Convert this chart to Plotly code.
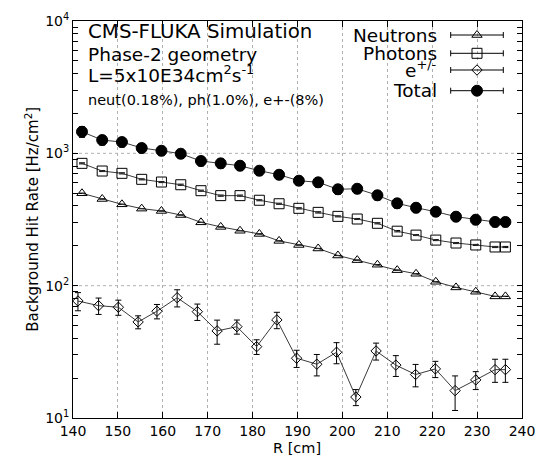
import plotly.graph_objects as go

# Radial positions [cm]
r_main = [142.0, 146.5, 150.9, 155.3, 159.7, 164.0, 168.5, 172.9, 177.2, 181.5, 185.9, 190.3,
          194.6, 199.0, 203.3, 207.8, 212.2, 216.4, 220.8, 225.3, 229.7, 234.0, 236.3]
r_elec = [141.1, 145.7, 150.1, 154.5, 158.7, 163.2, 167.7, 172.1, 176.5, 180.9, 185.4, 189.8,
          194.3, 198.7, 203.0, 207.5, 211.9, 216.3, 220.7, 225.1, 229.7, 234.0, 236.3]

# Background hit rates [Hz/cm^2]
neutrons = [499, 452, 412, 382, 367, 342, 301, 278, 260, 246, 218, 203,
            191, 169, 156, 144, 131, 123, 107, 97, 90, 83, 83]
neutrons_err = [0.9, 0.8, 0.7, 0.7, 0.7, 0.6, 0.5, 0.5, 0.5, 0.4, 0.4, 0.4,
                0.3, 0.3, 0.3, 0.3, 0.2, 0.2, 0.2, 0.2, 0.2, 0.1, 0.1]
photons = [840, 735, 706, 636, 607, 579, 522, 479, 479, 442, 416, 384,
           358, 334, 319, 296, 258, 241, 221, 210, 203, 196, 196]
photons_err = [8, 7, 7, 6, 6, 6, 5, 5, 5, 4, 4, 4, 4, 3, 3, 3, 3, 2, 2, 2, 2, 2, 2]
electrons = [76.6, 70.6, 68.7, 53.2, 64.1, 81.1, 63.6, 45.5, 49.0, 34.6, 55.1, 28.3,
             25.5, 31.4, 14.4, 32.1, 25.1, 21.3, 23.5, 16.1, 19.4, 23.2, 23.2]
electrons_err = [12, 10, 9, 6, 8, 12, 9, 9.4, 6, 4.4, 7.8, 4.2,
                 4.7, 5.7, 2.0, 4.7, 4.5, 4.1, 3.3, 4.7, 3.0, 4.6, 4.6]
total = [1456, 1260, 1217, 1097, 1046, 993, 875, 840, 806, 739, 689, 621,
         604, 535, 540, 482, 419, 388, 362, 332, 315, 303, 303]
total_err = [135, 105, 100, 90, 85, 80, 72, 68, 66, 60, 56, 50,
             49, 44, 44, 39, 34, 32, 29, 27, 26, 25, 25]

series_names = ["Neutrons", "Photons", "e<sup>+/-</sup>", "Total"]

# Axis ticks: labelled decades plus unlabelled 2..9 subdivisions
x_ticks = [140, 150, 160, 170, 180, 190, 200, 210, 220, 230, 240]
y_major = [10, 100, 1000, 10000]
y_major_text = ["10<sup>1</sup>", "10<sup>2</sup>", "10<sup>3</sup>", "10<sup>4</sup>"]
y_minor = [m * d for d in (10, 100, 1000) for m in range(2, 10)]
y_tickvals = y_major + y_minor
y_ticktext = y_major_text + [""] * len(y_minor)
# decade gridlines as fractions of the plot height (log range 1..4)
grid_fracs = [1 / 3, 2 / 3]

FONT = "DejaVu Sans"
LINE_COL = "#3a3a3a"
GRID_COL = "#b0b0b0"

styles = [
    dict(symbol="triangle-up-open", size=9, fill=None),
    dict(symbol="square-open", size=10, fill=None),
    dict(symbol="diamond-open", size=8, fill=None),
    dict(symbol="circle", size=11, fill="black"),
]

fig = go.Figure()

datasets = [
    (r_main, neutrons, neutrons_err),
    (r_main, photons, photons_err),
    (r_elec, electrons, electrons_err),
    (r_main, total, total_err),
]

for (xs, ys, es), st in zip(datasets, styles):
    fig.add_trace(go.Scatter(
        x=xs, y=ys, mode="lines+markers",
        line=dict(color=LINE_COL, width=1),
        marker=dict(symbol=st["symbol"], size=st["size"],
                    color=st["fill"] or "black",
                    line=dict(color="black", width=1)),
        error_y=dict(type="data", array=es, visible=True,
                     color="black", thickness=1, width=3),
        showlegend=False,
    ))

for gf in grid_fracs:
    fig.add_shape(type="line", xref="x domain", yref="y domain",
                  x0=0, x1=1, y0=gf, y1=gf, layer="below",
                  line=dict(color=GRID_COL, width=1, dash="dot"))

# Legend key drawn on a pixel-scaled overlay: horizontal bar with caps and the symbol
key_y = [35, 53.3, 70, 90.7]
key_text_y = [35, 53.3, 68.7, 90.7]
key_x = 477
key_half = 26.3
for name, st, ky, ty in zip(series_names, styles, key_y, key_text_y):
    fig.add_trace(go.Scatter(
        x=[key_x], y=[ky], xaxis="x2", yaxis="y2", mode="markers",
        marker=dict(symbol=st["symbol"], size=st["size"],
                    color=st["fill"] or "black",
                    line=dict(color="black", width=1)),
        error_x=dict(type="constant", value=key_half, visible=True,
                     color="black", thickness=1, width=3),
        showlegend=False, hoverinfo="skip",
    ))
    fig.add_annotation(x=439, y=ty, xref="x2", yref="y2", text=name,
                       showarrow=False, xanchor="right", yanchor="middle",
                       font=dict(family=FONT, size=18.5, color="black"))

info_lines = [
    ("CMS-FLUKA Simulation", 31.7, 19.8),
    ("Phase-2 geometry", 54.5, 18.5),
    ("L=5x10E34cm<sup>2</sup>s<sup>-1</sup>", 73.7, 18.5),
    ("neut(0.18%), ph(1.0%), e+-(8%)", 100, 14.5),
]
for txt, ty, fs in info_lines:
    fig.add_annotation(x=86, y=ty, xref="x2", yref="y2", text=txt,
                       showarrow=False, xanchor="left", yanchor="middle",
                       font=dict(family=FONT, size=fs, color="black"))

# Axis titles, placed in paper coordinates relative to the plot area
fig.add_annotation(x=0.4989, y=-0.0756, xref="paper", yref="paper", text="R [cm]",
                   showarrow=False, xanchor="center", yanchor="middle",
                   font=dict(family=FONT, size=14.5, color="black"))
fig.add_annotation(x=-0.092, y=0.501, xref="paper", yref="paper",
                   text="Background Hit Rate [Hz/cm<sup>2</sup>]", textangle=-90,
                   showarrow=False, xanchor="center", yanchor="middle",
                   font=dict(family=FONT, size=15, color="black"))

fig.update_layout(
    width=551, height=462,
    margin=dict(l=73, r=29, t=21, b=44),
    paper_bgcolor="white", plot_bgcolor="white",
    font=dict(family=FONT, size=14, color="black"),
    xaxis=dict(
        range=[140, 240], tickmode="array", tickvals=x_ticks,
        ticks="inside", ticklen=6, tickcolor="black",
        showline=True, linecolor="black", linewidth=1, mirror="allticks",
        showgrid=True, gridcolor=GRID_COL, griddash="dot", gridwidth=1,
        zeroline=False,
        tickfont=dict(family=FONT, size=14),
    ),
    yaxis=dict(
        type="log", range=[1, 4], tickmode="array",
        tickvals=y_tickvals, ticktext=y_ticktext,
        ticks="inside", ticklen=5, tickcolor="black",
        showline=True, linecolor="black", linewidth=1, mirror="allticks",
        showgrid=False, zeroline=False,
        tickfont=dict(family=FONT, size=14),
    ),
    xaxis2=dict(range=[73, 522], overlaying="x", visible=False, anchor="y2"),
    yaxis2=dict(range=[418, 21], overlaying="y", visible=False, anchor="x2"),
)

fig.write_html("out.html")
